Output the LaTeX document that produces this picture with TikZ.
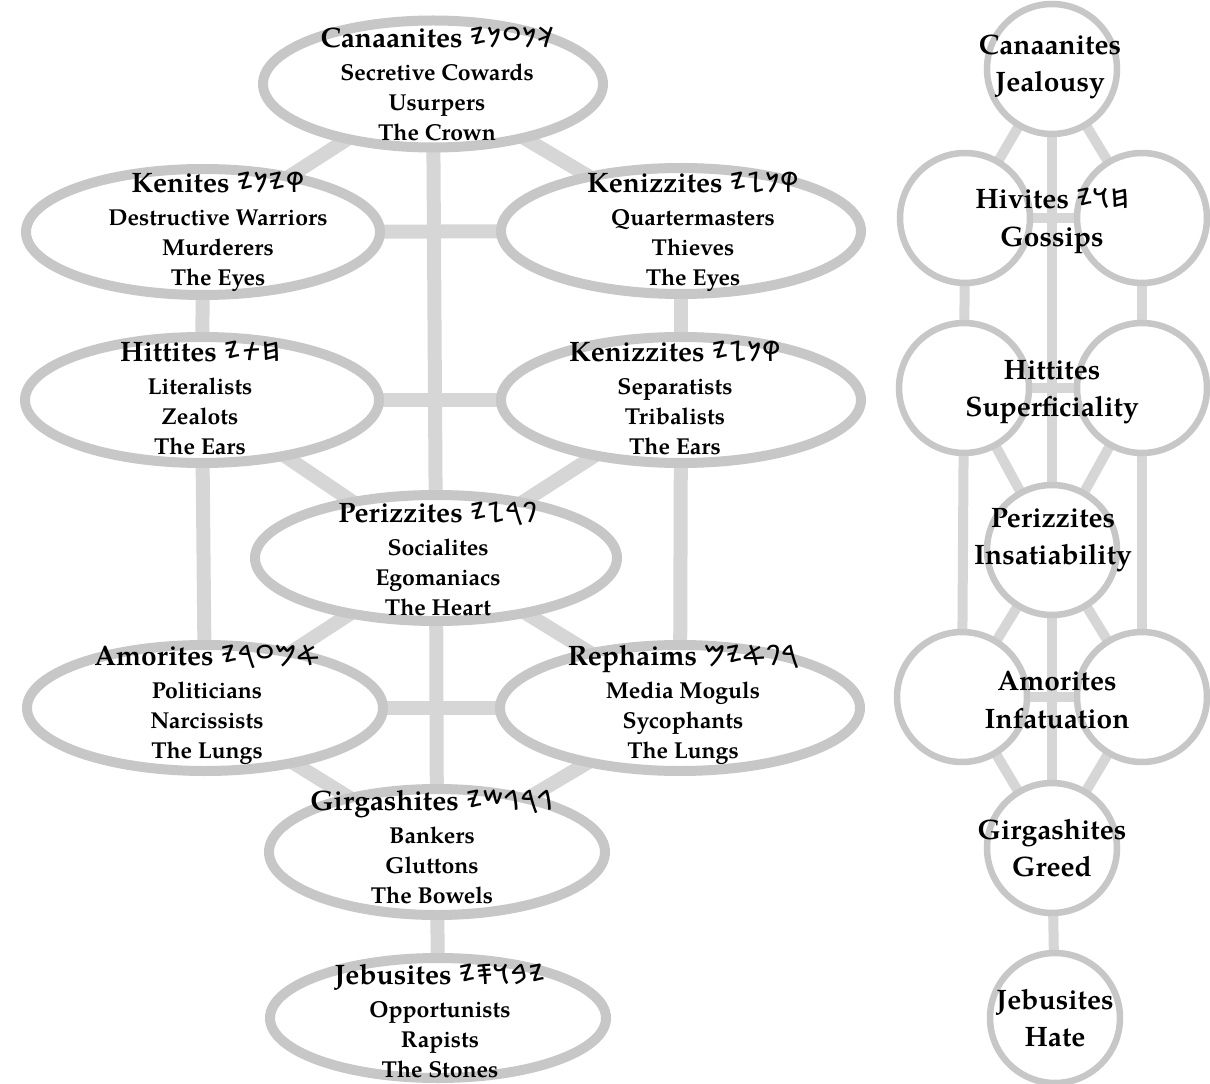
\documentclass[tikz,border=0pt]{standalone}
\usepackage{fontspec}
\setmainfont{texgyrepagella}[Extension=.otf, UprightFont=*-regular, BoldFont=*-bold, ItalicFont=*-italic, BoldItalicFont=*-bolditalic]
\TeXXeTstate=1
\newif\ifphoen
\IfFontExistsTF{Noto Sans Phoenician}{\phoentrue\newfontfamily\phfont{Noto Sans Phoenician}}{\phoenfalse\newfontfamily\phfont{DejaVu Sans}}
\newcommand\ph[2]{{\phfont\ifphoen\beginR#1\endR\else#2\fi}}
\usetikzlibrary{shapes.geometric,backgrounds}
\tikzset{
 bar/.style={draw=black!16, line width=0.28cm},
 rbar/.style={draw=black!16, line width=0.2cm},
 ell/.style 2 args={ellipse, draw=black!22, line width=0.2cm, fill=white, inner sep=0pt, minimum width=#1*0.02cm, minimum height=#2*0.02cm},
 circ/.style={circle, draw=black!22, line width=0.13cm, fill=white, inner sep=0pt, minimum size=2.6cm},
 ltxt/.style={align=center, font=\bfseries\fontsize{13.1}{17.1}\selectfont, inner sep=0pt},
 rtxt/.style={align=center, font=\bfseries\fontsize{16}{21.2}\selectfont, inner sep=0pt},
}
\newcommand\hd[1]{{\fontsize{16}{17.1}\selectfont #1}}
\begin{document}
\begin{tikzpicture}[x=0.02cm, y=-0.02cm]
\useasboundingbox (0,0) rectangle (1210,1084);
% ---- left tree: ellipses ----
\node[ell={340}{127}] (lCan) at (433,84) {};
\node[ell={354}{126}] (lKen) at (203,232) {};
\node[ell={360}{126}] (lKz1) at (681,231) {};
\node[ell={354}{126}] (lHit) at (202,400) {};
\node[ell={360}{126}] (lKz2) at (681,400) {};
\node[ell={362}{126}] (lPer) at (436,558) {};
\node[ell={356}{126}] (lAmo) at (205,708) {};
\node[ell={360}{126}] (lRep) at (680,708) {};
\node[ell={336}{126}] (lGir) at (437,852) {};
\node[ell={336}{120}] (lJeb) at (438,1018) {};
% ---- left texts ----
\node[ltxt] (tCan) at (437,84) {\hd{Canaanites \ph{𐤊𐤍𐤏𐤍𐤉}{ƵɣOɣΨ}}\\[1.7pt]Secretive Cowards\\Usurpers\\The Crown};
\node[ltxt] (tKen) at (218,232) {\hd{Kenites \ph{𐤒𐤉𐤍𐤉}{ƵɣƵφ}}\\[1.7pt]Destructive Warriors\\Murderers\\The Eyes};
\node[ltxt] (tKz1) at (693,232) {\hd{Kenizzites \ph{𐤒𐤍𐤆𐤉}{ƵΣɣφ}}\\[1.7pt]Quartermasters\\Thieves\\The Eyes};
\node[ltxt] (tHit) at (200,398) {\hd{Hittites \ph{𐤇𐤕𐤉}{ƵXĦ}}\\[1.7pt]Literalists\\Zealots\\The Ears};
\node[ltxt] (tKz2) at (675,398) {\hd{Kenizzites \ph{𐤒𐤍𐤆𐤉}{ƵΣɣφ}}\\[1.7pt]Separatists\\Tribalists\\The Ears};
\node[ltxt] (tPer) at (438,559) {\hd{Perizzites \ph{𐤐𐤓𐤆𐤉}{ƵΣ47}}\\[1.7pt]Socialites\\Egomaniacs\\The Heart};
\node[ltxt] (tAmo) at (207,705) {\hd{Amorites \ph{𐤀𐤌𐤏𐤓𐤉}{Ƶ4Oɰ⊀}}\\[1.7pt]Politicians\\Narcissists\\The Lungs};
\node[ltxt] (tRep) at (683,705) {\hd{Rephaims \ph{𐤓𐤐𐤀𐤉𐤌}{ɰƵ⊀74}}\\[1.7pt]Media Moguls\\Sycophants\\The Lungs};
\node[ltxt] (tGir) at (432,847) {\hd{Girgashites \ph{𐤂𐤓𐤂𐤔𐤉}{ƵW˥4˥}}\\[1.7pt]Bankers\\Gluttons\\The Bowels};
\node[ltxt] (tJeb) at (440,1021) {\hd{Jebusites \ph{𐤉𐤁𐤅𐤎𐤉}{Ƶ≢Y9Ƶ}}\\[1.7pt]Opportunists\\Rapists\\The Stones};
% ---- right tree: circles ----
\node[circ] (rCan) at (1052,69) {};
\node[circ] (rHivL) at (965,218) {};
\node[circ] (rHivR) at (1142,218) {};
\node[circ] (rHitL) at (964,388) {};
\node[circ] (rHitR) at (1142,388) {};
\node[circ] (rPer) at (1052,550) {};
\node[circ] (rAmoL) at (962,697) {};
\node[circ] (rAmoR) at (1142,697) {};
\node[circ] (rGir) at (1052,848) {};
\node[circ] (rJeb) at (1055,1018) {};
% ---- right texts ----
\node[rtxt] (sCan) at (1050,67) {Canaanites\\Jealousy};
\node[rtxt] (sHiv) at (1052,221) {Hivites \ph{𐤇𐤅𐤉}{ƵYĦ}\\Gossips};
\node[rtxt] (sHit) at (1052,392) {Hittites\\Superficiality};
\node[rtxt] (sPer) at (1053,540) {Perizzites\\Insatiability};
\node[rtxt] (sAmo) at (1057,700) {Amorites\\Infatuation};
\node[rtxt] (sGir) at (1052,848) {Girgashites\\Greed};
\node[rtxt] (sJeb) at (1055,1018) {Jebusites\\Hate};
% ---- connectors (behind) ----
\begin{scope}[on background layer]
\fill[white] (0,0) rectangle (1210,1084);
\foreach \a/\b in {lCan/lPer, lPer/lGir, lGir/lJeb, lKen/lHit, lHit/lAmo, lKz1/lKz2, lKz2/lRep,
  lKen/lKz1, lHit/lKz2, lAmo/lRep, lCan/lKen, lCan/lKz1, lHit/lPer, lKz2/lPer, lPer/lAmo, lPer/lRep,
  lAmo/lGir, lRep/lGir}
  \draw[bar] (\a.center) -- (\b.center);
\foreach \a/\b in {rCan/rPer, rPer/rGir, rGir/rJeb, rCan/rHivL, rCan/rHivR, rHivL/rHitL, rHitL/rAmoL,
  rHivR/rHitR, rHitR/rAmoR, rHivL/rHivR, rHitL/rHitR, rAmoL/rAmoR, rHitL/rPer, rHitR/rPer,
  rPer/rAmoL, rPer/rAmoR, rAmoL/rGir, rAmoR/rGir}
  \draw[rbar] (\a.center) -- (\b.center);
\end{scope}
\end{tikzpicture}
\end{document}
